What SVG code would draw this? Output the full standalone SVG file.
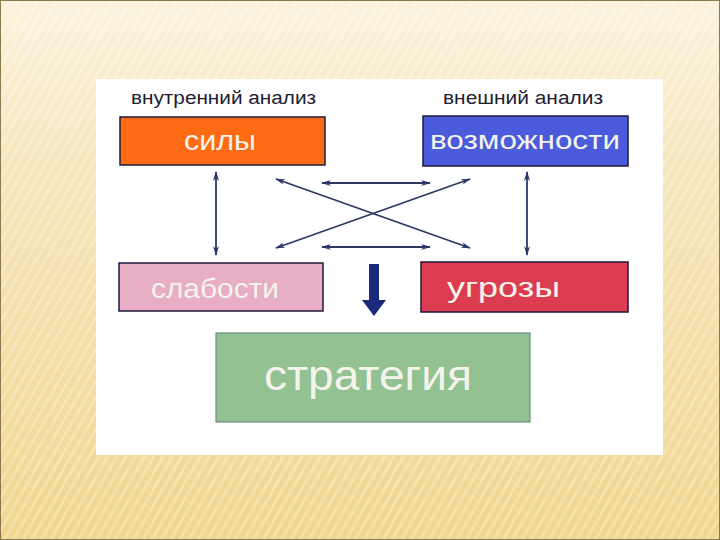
<svg xmlns="http://www.w3.org/2000/svg" width="720" height="540" viewBox="0 0 720 540">
<defs>
<linearGradient id="bg" x1="0" y1="0" x2="0" y2="1">
<stop offset="0" stop-color="#FBF3DC"/>
<stop offset="0.3" stop-color="#F6E6BC"/>
<stop offset="1" stop-color="#F1D68E"/>
</linearGradient>
<pattern id="stripes" width="8" height="8" patternUnits="userSpaceOnUse" patternTransform="rotate(30)">
<rect width="3" height="8" fill="#FFFFFF" opacity="0.25"/>
</pattern>
<marker id="ah" markerWidth="10" markerHeight="6" refX="9" refY="3" orient="auto-start-reverse" markerUnits="userSpaceOnUse">
<path d="M0,0 L10,3 L0,6 L3,3 Z" fill="#2B3866"/>
</marker>
<style>
.hdr{font-family:"Liberation Sans",Arial,sans-serif;font-size:18px;fill:#1E2030}
.lbl{font-family:"Liberation Sans",Arial,sans-serif;fill:#F4F4EC}
.box{stroke:#22183A;stroke-width:1.5}
.conn{stroke:#2B3866;stroke-width:1.8;fill:none;marker-start:url(#ah);marker-end:url(#ah)}
</style>
</defs>
<rect width="720" height="540" fill="url(#bg)"/>
<rect width="720" height="540" fill="url(#stripes)"/>
<rect x="0.5" y="0.5" width="719" height="539" fill="none" stroke="#8A7A50" stroke-width="1"/>
<rect x="96" y="79" width="567" height="376" fill="#FFFFFF"/>
<text class="hdr" x="131" y="104" textLength="185" lengthAdjust="spacingAndGlyphs">внутренний анализ</text>
<text class="hdr" x="443" y="104" textLength="160" lengthAdjust="spacingAndGlyphs">внешний анализ</text>
<g id="sily">
<rect class="box" x="120" y="117" width="205" height="48" fill="#FF6A14"/>
<text class="lbl" x="184" y="150" font-size="28" textLength="72" lengthAdjust="spacingAndGlyphs">силы</text>
</g>
<g id="vozmozhnosti">
<rect class="box" x="423" y="116" width="205" height="50" fill="#4A5CDC"/>
<text class="lbl" x="430" y="149" font-size="25" textLength="190" lengthAdjust="spacingAndGlyphs">возможности</text>
</g>
<g id="slabosti">
<rect class="box" x="119" y="263" width="204" height="48" fill="#E8AEC6"/>
<text class="lbl" x="151" y="298" font-size="27" fill="#F6F0F2" textLength="128" lengthAdjust="spacingAndGlyphs">слабости</text>
</g>
<g id="ugrozy">
<rect class="box" x="421" y="262" width="207" height="50" fill="#DC3C50"/>
<text class="lbl" x="447" y="297" font-size="27" textLength="113" lengthAdjust="spacingAndGlyphs">угрозы</text>
</g>
<g id="strategiya">
<rect x="216" y="333" width="314" height="89" fill="#92C292" stroke="#6E8E80" stroke-width="1.2"/>
<text class="lbl" x="264" y="390" font-size="43" textLength="208" lengthAdjust="spacingAndGlyphs">стратегия</text>
</g>
<g id="connectors">
<line class="conn" x1="216" y1="172" x2="216" y2="255"/>
<line class="conn" x1="527" y1="172" x2="527" y2="255"/>
<line class="conn" x1="322" y1="183" x2="430" y2="183"/>
<line class="conn" x1="322" y1="247" x2="430" y2="247"/>
<line class="conn" x1="276" y1="179" x2="470" y2="248"/>
<line class="conn" x1="470" y1="179" x2="276" y2="248"/>
<path d="M369,264 H379 V300 H386 L374,316 L362,300 H369 Z" fill="#1A2A7A"/>
</g>
</svg>
